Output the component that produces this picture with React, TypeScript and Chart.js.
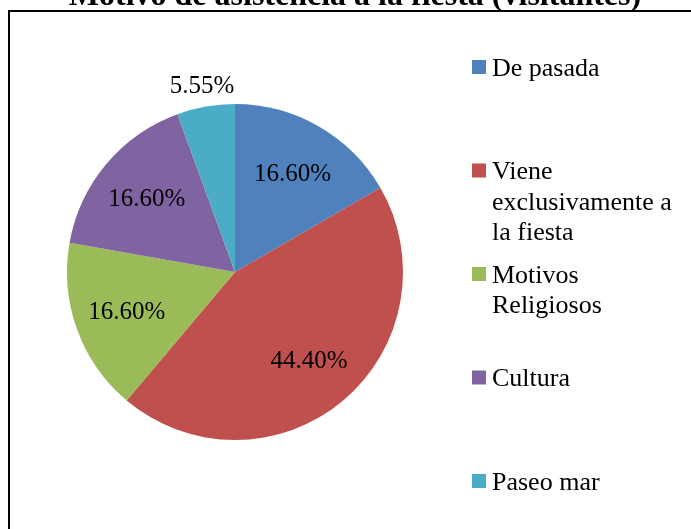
import React, { useEffect, useRef } from "react";
import { Chart, registerables } from "chart.js";

Chart.register(...registerables);

const titleText = "Motivo de asistencia a la fiesta (visitantes)";
const categories = ["De pasada", "Viene exclusivamente a la fiesta", "Motivos Religiosos", "Cultura", "Paseo mar"];
const values = [16.6, 44.4, 16.6, 16.6, 5.55];
const colors = ["#4F81BD", "#C0504D", "#9BBB59", "#8064A2", "#4BACC6"];

const SERIF = '"Liberation Serif", "Times New Roman", serif';

function wrap(ctx: CanvasRenderingContext2D, text: string, maxW: number): string[] {
  const words = text.split(" ");
  const lines: string[] = [];
  let cur = "";
  for (const w of words) {
    const test = cur ? cur + " " + w : w;
    if (cur && ctx.measureText(test).width > maxW) {
      lines.push(cur);
      cur = w;
    } else cur = test;
  }
  if (cur) lines.push(cur);
  return lines;
}

const decorPlugin = {
  id: "decor",
  beforeDraw(chart: any) {
    const ctx = chart.ctx as CanvasRenderingContext2D;
    ctx.save();
    ctx.fillStyle = "#ffffff";
    ctx.fillRect(0, 0, chart.width, chart.height);
    ctx.strokeStyle = "#000000";
    ctx.lineWidth = 2;
    ctx.strokeRect(9, 11, chart.width + 20, chart.height + 20);
    ctx.fillStyle = "#000000";
    ctx.font = `bold 32px ${SERIF}`;
    ctx.textAlign = "center";
    ctx.textBaseline = "alphabetic";
    ctx.fillText(titleText, 355, 5);
    ctx.restore();
  },
  afterDraw(chart: any) {
    const ctx = chart.ctx as CanvasRenderingContext2D;
    const meta = chart.getDatasetMeta(0);
    const total = values.reduce((a, b) => a + b, 0);
    ctx.save();
    ctx.fillStyle = "#000000";
    ctx.textAlign = "center";
    ctx.textBaseline = "alphabetic";
    const fs = 25;
    ctx.font = `${fs}px ${SERIF}`;
    meta.data.forEach((arc: any, i: number) => {
      const p = arc.getProps(["x", "y", "startAngle", "endAngle", "outerRadius"], true);
      const mid = (p.startAngle + p.endAngle) / 2;
      const share = values[i] / total;
      const r = share < 0.1 ? p.outerRadius + 22 : p.outerRadius * 0.685;
      const cx = p.x + Math.cos(mid) * r;
      const cy = p.y + Math.sin(mid) * r;
      ctx.fillText(values[i].toFixed(2) + "%", cx, cy + fs * 0.33);
    });
    // legend
    const lfs = 26;
    ctx.font = `${lfs}px ${SERIF}`;
    ctx.textAlign = "left";
    const legTop = 67;
    const legBottom = 481;
    const step = (legBottom - legTop) / (categories.length - 1);
    categories.forEach((c, i) => {
      const cy = legTop + step * i;
      ctx.fillStyle = colors[i];
      ctx.fillRect(472, cy - 7, 14, 14);
      ctx.fillStyle = "#000000";
      const lines = wrap(ctx, c, 195);
      lines.forEach((ln, j) => {
        ctx.fillText(ln, 492, cy + lfs * 0.33 + j * 30.5);
      });
    });
    ctx.restore();
  },
};

export default function App() {
  const ref = useRef<HTMLCanvasElement>(null);
  useEffect(() => {
    if (!ref.current) return;
    const chart = new Chart(ref.current, {
      type: "pie",
      data: {
        labels: categories,
        datasets: [
          {
            data: values,
            backgroundColor: colors,
            borderWidth: 0,
          },
        ],
      },
      options: {
        responsive: false,
        animation: false,
        devicePixelRatio: 1,
        layout: { padding: { left: 67, right: 288, top: 104, bottom: 89 } },
        plugins: {
          legend: { display: false },
          title: { display: false },
          tooltip: { enabled: false },
        },
      },
      plugins: [decorPlugin],
    });
    return () => chart.destroy();
  }, []);
  return (
    <div style={{ position: "absolute", left: 0, top: 0, width: 691, height: 529 }}>
      <canvas ref={ref} width={691} height={529} style={{ display: "block" }} />
    </div>
  );
}
